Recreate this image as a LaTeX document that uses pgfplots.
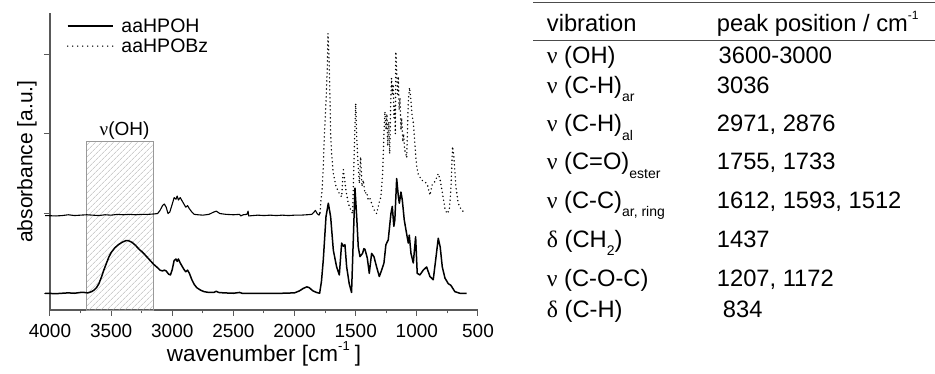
\documentclass[border=0pt]{standalone}
\usepackage{fontspec}
\setmainfont{Liberation Sans}
\newfontfamily\grk{Liberation Serif}
\usepackage{pgfplots}
\pgfplotsset{compat=1.18}
\usetikzlibrary{patterns.meta}
\newcommand\tabfont{\fontsize{23.7}{26}\selectfont}
\newcommand\sub[1]{\raisebox{-8.5pt}{\fontsize{14}{14}\selectfont #1}}
\begin{document}
\begin{tikzpicture}
\useasboundingbox (0,0) rectangle (935pt,374pt);
\begin{axis}[
  at={(50pt,64pt)}, anchor=south west,
  scale only axis, width=428pt, height=296.7pt,
  x dir=reverse, xmin=500, xmax=4000, ymin=-0.21, ymax=3.513,
  clip=false,
  axis x line*=bottom, axis y line*=left,
  axis line style={line width=1.1pt, black!65},
  tick style={line width=1pt, black!65},
  tick align=outside,
  major tick length=6pt, minor tick length=3.5pt,
  xtick={4000,3500,3000,2500,2000,1500,1000,500},
  xticklabels={4000,3500,3000,2500,2000,1500,1000,500},
  minor x tick num=1,
  ytick={0,1,2,3}, yticklabels={},
  xticklabel style={font=\fontsize{19}{19}\selectfont, anchor=base, yshift=-22pt},
  xlabel={wavenumber [cm\raisebox{11pt}{\fontsize{13}{13}\selectfont -1}\hspace{5pt}]},
  xlabel style={at={(axis description cs:0.5,-0.174)}, anchor=base, font=\fontsize{22.5}{22.5}\selectfont},
  ylabel={absorbance [a.u.]},
  ylabel style={at={(axis description cs:-0.041,0.5)}, anchor=base, rotate=0, font=\fontsize{21}{21}\selectfont},
  legend style={draw=none, fill=none, at={(axis description cs:0.039,0.99)}, anchor=north west,
    font=\fontsize{19.5}{22}\selectfont, row sep=1pt, inner sep=0pt},
  legend cell align=left,
  legend image code/.code={\draw[#1] (0pt,0pt) -- (45pt,0pt); \path (51pt,0pt);},
]
% nu(OH) region
\addplot[forget plot, draw=black!40, line width=0.9pt,
  pattern={Lines[angle=45, distance=4pt, line width=0.5pt]}, pattern color=black!30]
  coordinates {(3700,-0.21) (3700,1.905) (3150,1.905) (3150,-0.21)} -- cycle;

% aaHPOH
\addplot[black, line width=1.5pt, line join=round] coordinates {
(4040,0.0) (3950,-0.005) (3900,0.0) (3850,0.005) (3800,0.0) (3750,0.01) (3720,0.01) (3690,0.005)
(3660,0.02) (3640,0.04) (3620,0.07) (3600,0.12) (3580,0.2) (3560,0.29) (3540,0.37) (3520,0.45)
(3500,0.51) (3470,0.57) (3440,0.61) (3410,0.64) (3380,0.66) (3360,0.66) (3330,0.64) (3300,0.60)
(3270,0.55) (3240,0.51) (3210,0.46) (3180,0.41) (3150,0.36) (3120,0.32) (3100,0.29) (3080,0.28)
(3065,0.29) (3050,0.28) (3030,0.24) (3015,0.23) (3000,0.30) (2985,0.41) (2970,0.43) (2960,0.40)
(2950,0.43) (2935,0.38) (2920,0.34) (2905,0.30) (2890,0.27) (2875,0.29) (2860,0.25) (2840,0.17)
(2820,0.11) (2800,0.07) (2770,0.04) (2740,0.02) (2700,0.01) (2660,0.01) (2640,0.025) (2620,0.01)
(2580,0.005) (2500,0.0) (2450,0.01) (2430,0.0) (2350,0.0) (2200,0.0) (2100,0.0) (2000,0.005)
(1960,0.03) (1930,0.06) (1900,0.08) (1880,0.07) (1850,0.03) (1820,0.01) (1795,0.0) (1780,0.15)
(1765,0.42) (1743,0.96) (1724,1.13) (1705,0.96) (1683,0.54) (1656,0.33) (1634,0.23) (1615,0.63)
(1601,0.59) (1588,0.61) (1574,0.33) (1553,0.12) (1534,0.01) (1520,0.66) (1506,1.32) (1492,0.96)
(1479,0.58) (1465,0.46) (1444,0.50) (1433,0.56) (1424,0.55) (1405,0.44) (1389,0.25) (1370,0.50)
(1351,0.46) (1329,0.33) (1307,0.21) (1288,0.29) (1269,0.38) (1253,0.61) (1234,0.67) (1212,1.00)
(1201,1.09) (1188,0.84) (1180,0.92) (1165,1.44) (1151,1.21) (1143,1.13) (1130,1.27) (1119,1.17)
(1103,0.92) (1084,0.75) (1070,0.63) (1062,0.73) (1048,0.50) (1029,0.38) (1010,0.71) (997,0.25)
(975,0.23) (948,0.29) (920,0.33) (893,0.21) (866,0.17) (846,0.42) (825,0.69) (809,0.58)
(792,0.33) (770,0.19) (743,0.12) (722,0.10) (689,0.02) (648,0.0) (593,0.0)
};
\addlegendentry{aaHPOH}
\addlegendimage{black, line width=1.6pt, line cap=round, dash pattern=on 0pt off 5pt}
\addlegendentry{aaHPOBz}

% aaHPOBz, flat part
\addplot[forget plot, black, line width=1.1pt, line join=round] coordinates {
(4040,0.975) (3950,0.97) (3900,0.975) (3850,0.985) (3800,0.975) (3750,0.98) (3700,0.985) (3650,0.98)
(3600,0.975) (3550,0.985) (3500,0.98) (3450,0.99) (3400,0.985) (3350,0.99) (3300,0.985) (3250,0.99)
(3200,0.99) (3150,0.995) (3120,1.0) (3100,1.04) (3080,1.1) (3065,1.12) (3050,1.08) (3035,1.0)
(3020,1.02) (3000,1.12) (2985,1.2) (2970,1.18) (2960,1.22) (2950,1.17) (2935,1.2) (2920,1.16)
(2905,1.12) (2890,1.08) (2875,1.1) (2860,1.06) (2840,1.02) (2820,0.99) (2790,0.985) (2750,0.98)
(2700,0.99) (2660,1.02) (2640,1.03) (2610,1.0) (2560,0.99) (2500,0.985) (2450,0.99) (2440,0.97)
(2420,0.985) (2390,0.99) (2380,1.03) (2375,0.97) (2340,0.975) (2300,0.98) (2250,0.975) (2200,0.98)
(2150,0.975) (2100,0.98) (2050,0.975) (2000,0.98) (1950,0.98) (1900,0.985) (1860,0.99) (1840,1.02)
(1830,1.04) (1815,1.0) (1800,0.98) (1792,1.01)
};
% aaHPOBz, dotted part
\addplot[forget plot, black, line width=1.6pt, line cap=round, dash pattern=on 0pt off 4pt] coordinates {
(1792,1.01) (1784,1.17) (1775,1.29) (1765,1.59) (1757,1.96) (1746,2.3) (1738,2.59) (1732,2.84)
(1727,3.26) (1719,3.01) (1710,2.43) (1705,2.0) (1697,1.75) (1683,1.5) (1661,1.34) (1634,1.25)
(1615,1.21) (1601,1.55) (1593,1.46) (1580,1.29) (1561,1.13) (1542,1.05) (1525,1.0) (1511,1.84)
(1500,2.38) (1492,1.96) (1481,1.63) (1470,1.38) (1460,1.71) (1449,1.34) (1438,1.42) (1424,1.25)
(1411,1.27) (1397,1.17) (1384,1.19) (1370,1.13) (1351,1.05) (1329,1.0) (1310,1.13) (1294,1.21)
(1280,1.5) (1269,2.0) (1261,2.28) (1252,2.05) (1245,2.25) (1238,1.85) (1230,2.15) (1222,1.75)
(1215,2.30) (1207,2.70) (1200,2.50) (1193,2.62) (1187,2.20) (1180,2.35) (1176,2.00) (1172,3.03)
(1165,2.80) (1158,2.50) (1151,2.72) (1145,2.30) (1138,2.45) (1130,2.05) (1124,2.20) (1115,1.90)
(1108,2.00) (1100,1.80) (1090,1.75) (1083,1.70) (1070,2.40) (1060,2.58) (1050,2.45) (1040,2.25)
(1030,2.15) (1024,2.05) (1015,1.85) (1008,1.70) (1000,1.58) (990,1.50) (962,1.42) (934,1.40)
(913,1.36) (893,1.23) (875,1.36) (853,1.40) (825,1.50) (809,1.42) (790,1.25) (770,1.06)
(754,1.00) (735,1.04) (722,1.29) (708,1.84) (697,1.71) (681,1.34) (662,1.13) (635,1.04) (600,1.01)
};

\node[anchor=base, inner sep=0pt, font=\fontsize{19}{19}\selectfont] at (axis cs:3390,1.974) {{\grk ν}(OH)};
\end{axis}

% table
\draw[line width=1pt, black!70] (533pt,371.3pt) -- (935pt,371.3pt);
\draw[line width=1.3pt, black!70] (533pt,333.3pt) -- (935pt,333.3pt);
\begin{scope}[every node/.style={anchor=base west, inner sep=0pt, font=\tabfont}]
\node at (546.7pt,342.3pt) {vibration};
\node at (716.7pt,342.3pt) {peak position / cm\raisebox{12pt}{\fontsize{12}{12}\selectfont -1}};
\node at (546.7pt,310.7pt) {{\grk ν} (OH)};
\node at (718.5pt,310.7pt) {3600-3000};
\node at (546.7pt,280.7pt) {{\grk ν} (C-H)\sub{ar}};
\node at (716.7pt,280.7pt) {3036};
\node at (546.7pt,242.3pt) {{\grk ν} (C-H)\sub{al}};
\node at (716.7pt,242.3pt) {2971, 2876};
\node at (546.7pt,204pt) {{\grk ν} (C=O)\sub{ester}};
\node at (716.7pt,204pt) {1755, 1733};
\node at (546.7pt,165.7pt) {{\grk ν} (C-C)\sub{ar, ring}};
\node at (716.7pt,165.7pt) {1612, 1593, 1512};
\node at (546.7pt,126.5pt) {{\grk δ} (CH\sub{2})};
\node at (716.7pt,126.5pt) {1437};
\node at (546.7pt,87.5pt) {{\grk ν} (C-O-C)};
\node at (716.7pt,87.5pt) {1207, 1172};
\node at (546.7pt,56.7pt) {{\grk δ} (C-H)};
\node at (722.7pt,56.7pt) {834};
\end{scope}
\end{tikzpicture}
\end{document}
